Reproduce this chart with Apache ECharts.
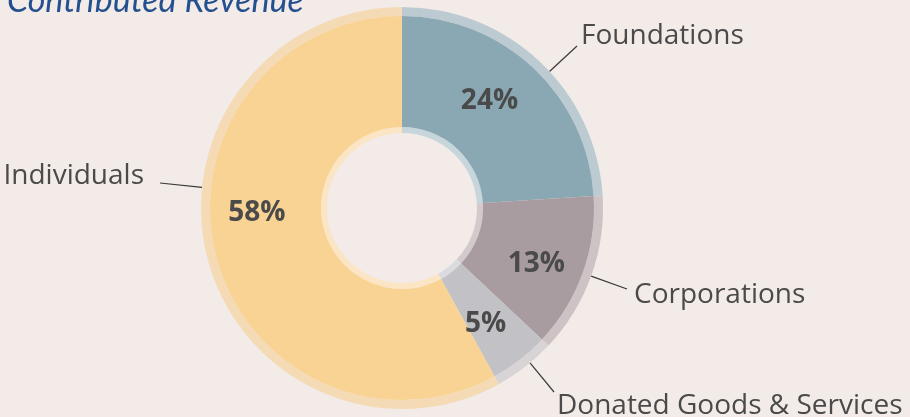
<!DOCTYPE html>
<html>
<head>
<meta charset="utf-8">
<script src="https://cdn.jsdelivr.net/npm/echarts@6/dist/echarts.min.js"></script>
<style>
  html, body { margin: 0; padding: 0; background: #f2ebe8; }
  #chart { width: 910px; height: 417px; }
</style>
</head>
<body>
<div id="chart"></div>
<script>
// ---- data ----
const CATEGORIES = ['Foundations', 'Corporations', 'Donated Goods & Services', 'Individuals'];
const SHARES = [24, 13, 5, 58];
const TITLE = 'Contributed Revenue';

// ---- styles ----
const MAIN_COLORS  = ['#89a8b3', '#a89ca0', '#c2c1c6', '#f9d393'];
const OUTER_COLORS = ['#bccbd1', '#cdc3c4', '#d8d4d5', '#f5dbb5'];
const INNER_COLORS = ['#c6d6db', '#d3cacc', '#dbdbdf', '#fce5c4'];
const CX = 402, CY = 208;
const R_HOLE = 75, R_IN = 81, R_MAIN = 192, R_OUT = 201;
const TEXT_COLOR = '#4a4a4a';

// percent label nudges relative to the library's inside position
const PCT_NUDGE = {
  'Foundations': [-8, -5],
  'Corporations': [3, 9],
  'Donated Goods & Services': [-2, 6],
  'Individuals': [-10, -30]
};
// name label placement (text anchor + line end offset from anchor)
const NAME_LABEL = {
  'Foundations': { x: 581, y: 36, align: 'left', end: [-4, 10] },
  'Corporations': { x: 634, y: 295, align: 'left', end: [-7, -6] },
  'Donated Goods & Services': { x: 557, y: 406, align: 'left', end: [-3, -14] },
  'Individuals': { x: 144, y: 176, align: 'right', end: [16, 7] }
};

function buildData(colors) {
  return CATEGORIES.map((n, i) => ({ name: n, value: SHARES[i], itemStyle: { color: colors[i] } }));
}

const chart = echarts.init(document.getElementById('chart'), null, { renderer: 'canvas' });
chart.setOption({
  backgroundColor: '#f2ebe8',
  animation: false,
  title: {
    text: TITLE,
    left: 2,
    top: -21,
    textStyle: { fontFamily: 'Lato', fontStyle: 'italic', fontWeight: 'normal', fontSize: 34, color: '#24508f' }
  },
  series: [
    {
      type: 'pie', silent: true, center: [CX, CY], radius: [R_HOLE, R_IN],
      startAngle: 90, clockwise: true, avoidLabelOverlap: false,
      label: { show: false }, labelLine: { show: false },
      data: buildData(INNER_COLORS)
    },
    {
      type: 'pie', silent: true, center: [CX, CY], radius: [R_MAIN, R_OUT],
      startAngle: 90, clockwise: true, avoidLabelOverlap: false,
      label: {
        show: true, position: 'outside', formatter: '{b}',
        fontFamily: 'Open Sans', fontSize: 28, color: TEXT_COLOR
      },
      labelLine: { show: true, length: 20, length2: 10, lineStyle: { color: '#3a3a3a', width: 1.2 } },
      labelLayout: function (p) {
        const a = NAME_LABEL[CATEGORIES[p.dataIndex]];
        const ex = a.x + a.end[0], ey = a.y + a.end[1];
        const vx = ex - CX, vy = ey - CY, d = Math.hypot(vx, vy);
        const sx = CX + vx / d * R_OUT, sy = CY + vy / d * R_OUT;
        return {
          x: a.x, y: a.y, align: a.align, verticalAlign: 'middle',
          labelLinePoints: [[sx, sy], [ex, ey], [ex, ey]]
        };
      },
      data: buildData(OUTER_COLORS)
    },
    {
      type: 'pie', silent: true, center: [CX, CY], radius: [R_IN, R_MAIN],
      startAngle: 90, clockwise: true, avoidLabelOverlap: false,
      label: {
        show: true, position: 'inside', formatter: '{c}%',
        fontFamily: 'Open Sans', fontWeight: 'bold', fontSize: 28, color: TEXT_COLOR
      },
      labelLine: { show: false },
      labelLayout: function (p) {
        const n = PCT_NUDGE[CATEGORIES[p.dataIndex]];
        const r = p.labelRect;
        return {
          x: r.x + r.width / 2 + n[0], y: r.y + r.height / 2 + n[1],
          align: 'center', verticalAlign: 'middle'
        };
      },
      data: buildData(MAIN_COLORS)
    }
  ]
});
</script>
</body>
</html>
